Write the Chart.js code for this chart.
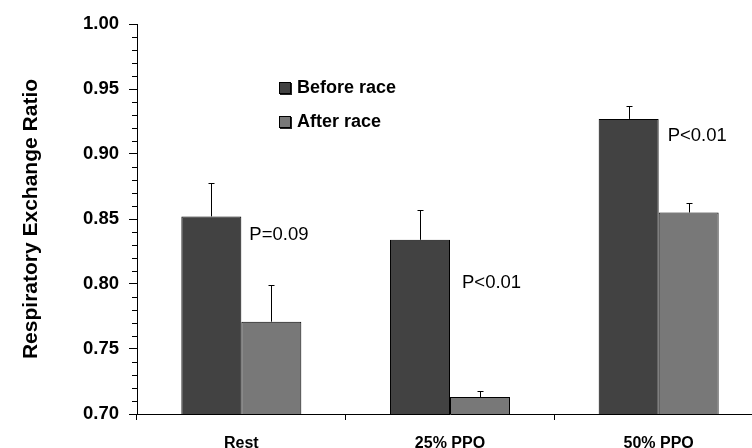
<!DOCTYPE html>
<html>
<head>
<meta charset="utf-8">
<script src="https://cdn.jsdelivr.net/npm/chart.js@4.4.1/dist/chart.umd.min.js"></script>
<style>
  html, body { margin: 0; padding: 0; background: #ffffff; }
  #wrap { width: 752px; height: 448px; overflow: hidden; position: relative; }
  #chart { display: block; }
</style>
</head>
<body>
<div id="wrap"><canvas id="chart" width="770" height="448"></canvas></div>
<script>
// Respiratory exchange ratio before and after the race, mean with upper SD bar
const categories = ['Rest', '25% PPO', '50% PPO'];
const beforeRace = [0.852, 0.834, 0.927];
const afterRace = [0.771, 0.713, 0.855];
const beforeErr = [0.026, 0.023, 0.010];
const afterErr = [0.028, 0.005, 0.007];
const pValues = ['P=0.09', 'P<0.01', 'P<0.01'];
// vertical anchor (in RER units) for each P-value note
const pAnchor = [0.838, 0.801, 0.914];

const FONT = '"Liberation Sans", Arial, Helvetica, sans-serif';
const DARK = '#424242';
const LIGHT = '#787878';

const errorBars = {
  id: 'errorBars',
  afterDatasetsDraw(chart) {
    const ctx = chart.ctx;
    const y = chart.scales.y;
    const errs = [beforeErr, afterErr];
    ctx.save();
    ctx.strokeStyle = '#000';
    ctx.lineWidth = 1;
    chart.data.datasets.forEach((ds, i) => {
      chart.getDatasetMeta(i).data.forEach((bar, j) => {
        const x = Math.round(bar.x) + 0.5;
        const top = y.getPixelForValue(ds.data[j] + errs[i][j]);
        const base = y.getPixelForValue(ds.data[j]);
        ctx.beginPath();
        ctx.moveTo(x, base);
        ctx.lineTo(x, Math.round(top) + 0.5);
        ctx.moveTo(x - 3, Math.round(top) + 0.5);
        ctx.lineTo(x + 3, Math.round(top) + 0.5);
        ctx.stroke();
      });
    });
    ctx.restore();
  }
};

const notes = {
  id: 'notes',
  afterDatasetsDraw(chart) {
    const ctx = chart.ctx;
    const y = chart.scales.y;
    const meta = chart.getDatasetMeta(0);
    const dx = [8, 12, 9];
    ctx.save();
    ctx.fillStyle = '#000';
    ctx.font = '18.5px ' + FONT;
    ctx.textAlign = 'left';
    ctx.textBaseline = 'middle';
    pValues.forEach((t, j) => {
      const bar = meta.data[j];
      ctx.fillText(t, bar.x + bar.width / 2 + dx[j], y.getPixelForValue(pAnchor[j]));
    });
    ctx.restore();
  }
};

const minorTicks = {
  id: 'minorTicks',
  afterDraw(chart) {
    const ctx = chart.ctx;
    const y = chart.scales.y;
    const x0 = chart.chartArea.left;
    ctx.save();
    ctx.strokeStyle = '#000';
    ctx.lineWidth = 1;
    for (let k = 70; k <= 100; k++) {
      if (k % 5 === 0) continue;
      const py = Math.round(y.getPixelForValue(k / 100)) + 0.5;
      ctx.beginPath();
      ctx.moveTo(x0 - 5, py);
      ctx.lineTo(x0, py);
      ctx.stroke();
    }
    ctx.restore();
  }
};

const boxLegend = {
  id: 'boxLegend',
  afterDraw(chart) {
    const ctx = chart.ctx;
    const items = chart.data.datasets;
    const left = 279, top = 82, gap = 34, size = 12;
    ctx.save();
    ctx.font = 'bold 18px ' + FONT;
    ctx.textBaseline = 'middle';
    ctx.textAlign = 'left';
    items.forEach((ds, i) => {
      const ty = top + i * gap;
      ctx.fillStyle = '#222';
      ctx.fillRect(left + 1, ty + 1, size, size);
      ctx.fillStyle = ds.backgroundColor;
      ctx.fillRect(left, ty, size, size);
      ctx.strokeStyle = '#000';
      ctx.lineWidth = 1;
      ctx.strokeRect(left + 0.5, ty + 0.5, size - 1, size - 1);
      ctx.fillStyle = '#000';
      ctx.fillText(ds.label, left + size + 6, ty + size / 2);
    });
    ctx.restore();
  }
};

new Chart(document.getElementById('chart'), {
  type: 'bar',
  data: {
    labels: categories,
    datasets: [
      { label: 'Before race', data: beforeRace, backgroundColor: DARK, borderColor: '#000', borderWidth: 1,
        categoryPercentage: 0.575, barPercentage: 1.0 },
      { label: 'After race', data: afterRace, backgroundColor: LIGHT, borderColor: '#000', borderWidth: 1,
        categoryPercentage: 0.575, barPercentage: 1.0 }
    ]
  },
  options: {
    responsive: false,
    animation: false,
    devicePixelRatio: 1,
    layout: { padding: { top: 24, right: 7, bottom: 0, left: 0 } },
    plugins: {
      legend: { display: false },
      tooltip: { enabled: false }
    },
    scales: {
      x: {
        offset: true,
        grid: { display: true, offset: true, drawOnChartArea: false, drawTicks: true, tickLength: 6, color: '#000' },
        border: { display: true, color: '#000', width: 1 },
        ticks: { color: '#000', font: { family: FONT, size: 16, weight: 'bold' }, padding: 14, maxRotation: 0 },
        afterFit(s) { s.height = 34; }
      },
      y: {
        min: 0.70,
        max: 1.00,
        grid: { display: true, drawOnChartArea: false, drawTicks: true, tickLength: 8, color: '#000' },
        border: { display: true, color: '#000', width: 1 },
        ticks: {
          stepSize: 0.05,
          color: '#000',
          padding: 10,
          font: { family: FONT, size: 18.5, weight: 'bold' },
          callback: v => Number(v).toFixed(2)
        },
        title: {
          display: true,
          text: 'Respiratory Exchange Ratio',
          color: '#000',
          font: { family: FONT, size: 21, weight: 'bold' },
          padding: { top: 19, bottom: 0 }
        },
        afterFit(s) { s.width = 137; }
      }
    }
  },
  plugins: [errorBars, notes, minorTicks, boxLegend]
});
</script>
</body>
</html>
